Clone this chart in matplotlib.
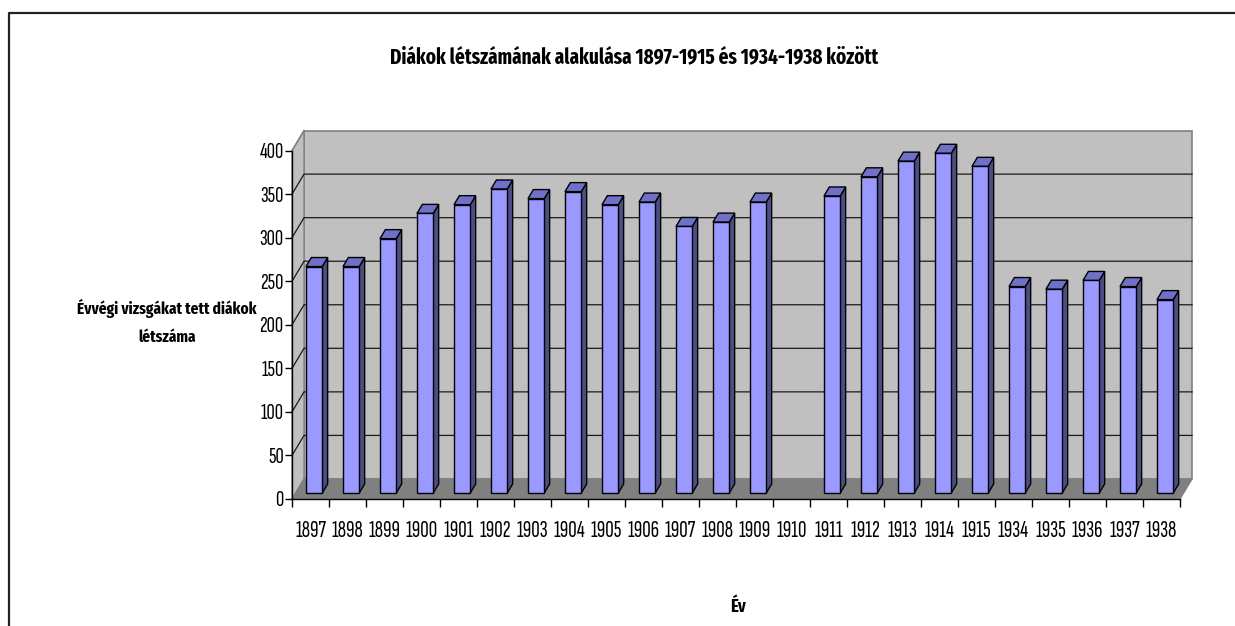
import matplotlib
matplotlib.use('Agg')
import matplotlib.pyplot as plt
from matplotlib.patches import Polygon
from matplotlib.lines import Line2D
import numpy as np

# data (1910 has no value)
years = ['1897', '1898', '1899', '1900', '1901', '1902', '1903', '1904', '1905', '1906',
         '1907', '1908', '1909', '1910', '1911', '1912', '1913', '1914', '1915',
         '1934', '1935', '1936', '1937', '1938']
students = [260, 260, 292, 321, 331, 349, 338, 346, 331, 334,
            306, 311, 334, np.nan, 341, 363, 381, 390, 375,
            237, 234, 244, 237, 222]
yticks = [0, 50, 100, 150, 200, 250, 300, 350, 400]

title = 'Diákok létszámának alakulása 1897-1915 és 1934-1938 között'
ylabel = 'Évvégi vizsgákat tett diákok\nlétszáma'
xlabel = 'Év'

# narrow fonts, like the squeezed Arial of the original
plt.rcParams['font.family'] = ['Sofia Sans Extra Condensed', 'Archivo Narrow',
                               'Liberation Sans', 'DejaVu Sans']
bold_fam = ['Fira Sans Extra Condensed', 'Roboto Condensed', 'Archivo Narrow',
            'Liberation Sans', 'DejaVu Sans']

# oblique depth offset (category units, value units)
DX, DY = 0.325, 23
D0, D1 = 0.3, 0.75
W = 0.44

fig = plt.figure(figsize=(12.35, 6.26), dpi=100)
ax = fig.add_axes([292 / 1235, 1 - 499 / 626, 888 / 1235, 348.4 / 626])
n = len(years)
ax.set_xlim(0, n)
ax.set_ylim(0, 400)

wall = '#c0c0c0'
ax.add_patch(Polygon([(DX, DY), (n + DX, DY), (n + DX, 400 + DY), (DX, 400 + DY)],
                     closed=True, fc=wall, ec='#808080', lw=1.2, clip_on=False, zorder=0))
ax.add_patch(Polygon([(0, 0), (DX, DY), (DX, 400 + DY), (0, 400)],
                     closed=True, fc=wall, ec='#808080', lw=1.0, clip_on=False, zorder=0))
ax.add_patch(Polygon([(0, 0), (n, 0), (n + DX, DY), (DX, DY)],
                     closed=True, fc='#808080', ec='#808080', lw=1.0, clip_on=False, zorder=1))

# gridlines on the walls
for v in yticks[1:-1]:
    ax.plot([0, DX, n + DX], [v, v + DY, v + DY], color='#1a1a1a', lw=0.9,
            clip_on=False, zorder=1)
ax.plot([0, DX], [400, 400 + DY], color='#808080', lw=1.0, clip_on=False, zorder=1)

front_c = '#9999ff'
side_c = '#4d4d85'
top_c = '#7070c8'
for i, v in enumerate(students):
    if np.isnan(v):
        continue
    x0 = i + 0.5 - W / 2 + D0 * DX
    x1 = x0 + W
    b0 = D0 * DY
    ddx = (D1 - D0) * DX
    ddy = (D1 - D0) * DY
    ax.add_patch(Polygon([(x1, b0), (x1 + ddx, b0 + ddy), (x1 + ddx, b0 + v + ddy), (x1, b0 + v)],
                         closed=True, fc=side_c, ec='black', lw=1.0, clip_on=False, zorder=3))
    ax.add_patch(Polygon([(x0, b0 + v), (x1, b0 + v), (x1 + ddx, b0 + v + ddy), (x0 + ddx, b0 + v + ddy)],
                         closed=True, fc=top_c, ec='black', lw=1.0, clip_on=False, zorder=3))
    ax.add_patch(Polygon([(x0, b0), (x1, b0), (x1, b0 + v), (x0, b0 + v)],
                         closed=True, fc=front_c, ec='black', lw=1.0, clip_on=False, zorder=4))

for s in ['top', 'right']:
    ax.spines[s].set_visible(False)
for s in ['left', 'bottom']:
    ax.spines[s].set_color('black')
    ax.spines[s].set_linewidth(1.0)
    ax.spines[s].set_zorder(5)
ax.patch.set_visible(False)

ax.set_yticks(yticks)
ax.set_yticklabels([str(t) for t in yticks])
ax.tick_params(axis='y', length=5, width=1, pad=1, labelsize=16.5, direction='out')
ax.set_xticks(np.arange(n) + 0.5)
ax.set_xticklabels(years)
ax.tick_params(axis='x', which='major', length=0, pad=15, labelsize=17)
ax.set_xticks(np.arange(n + 1), minor=True)
ax.tick_params(axis='x', which='minor', length=6, width=1, direction='out')

fig.text(634 / 1235, 1 - 57 / 626, title, ha='center', va='center',
         fontsize=15, fontweight='bold', family=bold_fam)
fig.text(167 / 1235, 1 - 322 / 626, ylabel, ha='center', va='center',
         fontsize=12, fontweight='bold', linespacing=1.85, family=bold_fam)
fig.text(738 / 1235, 1 - 607 / 626, xlabel, ha='center', va='center',
         fontsize=13, fontweight='bold', family=bold_fam)

# outer chart frame (cut off at right and bottom)
fig.add_artist(Line2D([8.5 / 1235, 8.5 / 1235, 1.0], [0.0, 1 - 12.5 / 626, 1 - 12.5 / 626],
                      transform=fig.transFigure, color='#222222', lw=1.6))

fig.savefig('out.png', dpi=100)
